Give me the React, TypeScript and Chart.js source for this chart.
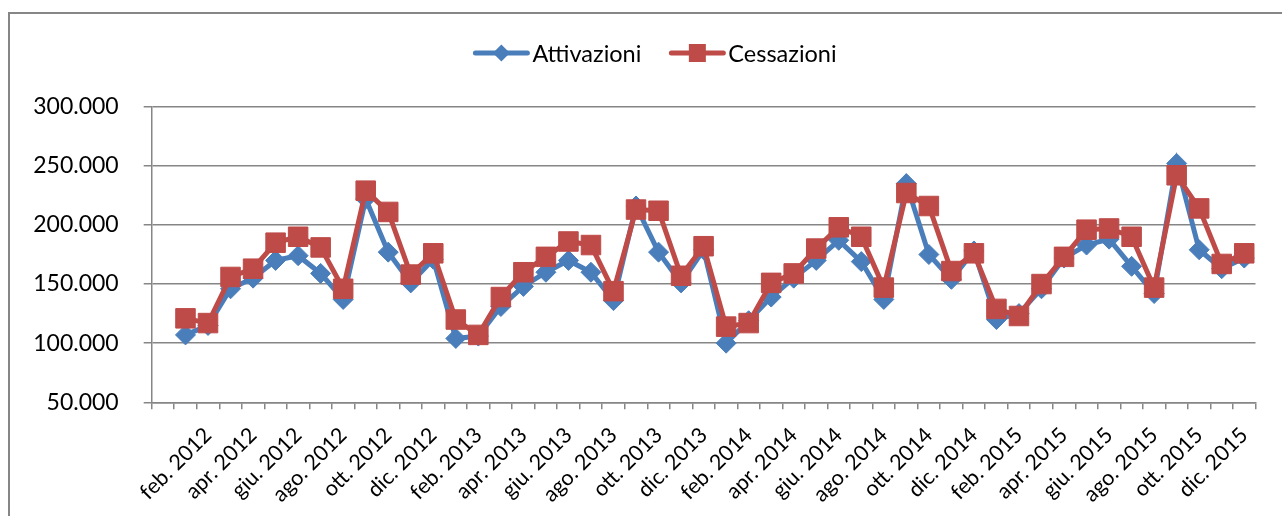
import React, { useEffect, useRef } from 'react';
import { Chart, registerables } from 'chart.js';

Chart.register(...registerables);

// Categories: first slot is an empty category (no data, no label)
const categories: string[] = [
  '',
  'gen. 2012', 'feb. 2012', 'mar. 2012', 'apr. 2012', 'mag. 2012', 'giu. 2012',
  'lug. 2012', 'ago. 2012', 'set. 2012', 'ott. 2012', 'nov. 2012', 'dic. 2012',
  'gen. 2013', 'feb. 2013', 'mar. 2013', 'apr. 2013', 'mag. 2013', 'giu. 2013',
  'lug. 2013', 'ago. 2013', 'set. 2013', 'ott. 2013', 'nov. 2013', 'dic. 2013',
  'gen. 2014', 'feb. 2014', 'mar. 2014', 'apr. 2014', 'mag. 2014', 'giu. 2014',
  'lug. 2014', 'ago. 2014', 'set. 2014', 'ott. 2014', 'nov. 2014', 'dic. 2014',
  'gen. 2015', 'feb. 2015', 'mar. 2015', 'apr. 2015', 'mag. 2015', 'giu. 2015',
  'lug. 2015', 'ago. 2015', 'set. 2015', 'ott. 2015', 'nov. 2015', 'dic. 2015',
];

const attivazioni: (number | null)[] = [
  null,
  107000, 115000, 146000, 155000, 170000, 174000, 159000, 137000, 222000, 177000, 151000, 171000,
  104000, 106000, 131000, 148000, 160000, 170000, 160000, 136000, 216000, 177000, 151000, 179000,
  100000, 119000, 139000, 155000, 170000, 187000, 169000, 137000, 235000, 175000, 154000, 178000,
  120000, 125000, 146000, 172000, 183000, 188000, 165000, 142000, 252000, 179000, 163000, 172000,
];

const cessazioni: (number | null)[] = [
  null,
  121000, 117000, 156000, 163000, 185000, 190000, 181000, 146000, 229000, 211000, 158000, 176000,
  120000, 107000, 139000, 160000, 173000, 186000, 183000, 144000, 213000, 212000, 157000, 182000,
  114000, 117000, 151000, 159000, 180000, 198000, 190000, 147000, 227000, 216000, 161000, 176000,
  129000, 123000, 150000, 173000, 196000, 197000, 190000, 147000, 242000, 214000, 167000, 176000,
];

const seriesNames = ['Attivazioni', 'Cessazioni'];
const yTickValues = [50000, 100000, 150000, 200000, 250000, 300000];
const yTickLabels = ['50.000', '100.000', '150.000', '200.000', '250.000', '300.000'];

const BLUE = '#4A7EBB';
const RED = '#BE4B48';
const GRID = '#868686';
const FONT = 'Lato';

const excelLegend = {
  id: 'excelLegend',
  afterDraw(chart: any) {
    const ctx: CanvasRenderingContext2D = chart.ctx;
    ctx.save();
    ctx.font = `23.5px ${FONT}`;
    const items = chart.data.datasets.map((ds: any) => ({
      label: ds.label as string,
      color: ds.borderColor as string,
      style: ds.pointStyle as string,
    }));
    const lineLen = 56;
    const gapText = 3;
    const itemGap = 28;
    const widths = items.map((it: any) => lineLen + gapText + ctx.measureText(it.label).width);
    const total = widths.reduce((a: number, b: number) => a + b, 0) + itemGap * (items.length - 1);
    let x = 655 - total / 2;
    const y = 53;
    items.forEach((it: any, i: number) => {
      ctx.strokeStyle = it.color;
      ctx.lineWidth = 5;
      ctx.lineCap = 'round';
      ctx.beginPath();
      ctx.moveTo(x + 2, y);
      ctx.lineTo(x + lineLen - 2, y);
      ctx.stroke();
      const cx = x + lineLen / 2;
      ctx.fillStyle = it.color;
      ctx.beginPath();
      if (it.style === 'rectRot') {
        const r = 8.5;
        ctx.moveTo(cx, y - r);
        ctx.lineTo(cx + r, y);
        ctx.lineTo(cx, y + r);
        ctx.lineTo(cx - r, y);
        ctx.closePath();
      } else {
        ctx.rect(cx - 8.5, y - 9, 17, 18);
      }
      ctx.fill();
      ctx.fillStyle = '#000';
      ctx.textBaseline = 'middle';
      ctx.textAlign = 'left';
      ctx.fillText(it.label, x + lineLen + gapText, y + 1);
      x += widths[i] + itemGap;
    });
    ctx.restore();
  },
};

function ChartCanvas() {
  const ref = useRef<HTMLCanvasElement | null>(null);
  useEffect(() => {
    if (!ref.current) return;
    const chart = new Chart(ref.current, {
      type: 'line',
      data: {
        labels: categories,
        datasets: [
          {
            label: seriesNames[0],
            data: attivazioni,
            borderColor: BLUE,
            backgroundColor: BLUE,
            borderWidth: 5,
            pointStyle: 'rectRot',
            pointRadius: 10,
            pointBorderWidth: 1,
            pointBackgroundColor: BLUE,
            pointBorderColor: BLUE,
            tension: 0,
            order: 1,
          },
          {
            label: seriesNames[1],
            data: cessazioni,
            borderColor: RED,
            backgroundColor: RED,
            borderWidth: 5,
            pointStyle: 'rect',
            pointRadius: 13.8,
            pointBorderWidth: 1,
            pointBackgroundColor: RED,
            pointBorderColor: RED,
            tension: 0,
            order: 0,
          },
        ],
      },
      options: {
        animation: false,
        responsive: false,
        maintainAspectRatio: false,
        layout: { padding: { top: 106.7, left: 0, right: 26.5, bottom: 0 } },
        plugins: {
          legend: { display: false },
          tooltip: { enabled: false },
        },
        scales: {
          x: {
            type: 'category',
            offset: true,
            afterFit: (scale: any) => {
              scale.height = 113.7;
            },
            grid: {
              offset: true,
              display: true,
              drawOnChartArea: false,
              drawTicks: true,
              tickLength: 7,
              color: GRID,
              lineWidth: 1.5,
            },
            border: { display: true, color: GRID, width: 1.5 },
            ticks: {
              autoSkip: false,
              maxRotation: 45,
              minRotation: 45,
              padding: 13,
              color: '#000',
              font: { family: FONT, size: 21.5 },
              callback: function (this: any, _v: any, index: number) {
                return index > 0 && index % 2 === 0 ? categories[index] : '';
              },
            },
          },
          y: {
            min: yTickValues[0],
            max: yTickValues[yTickValues.length - 1],
            afterFit: (scale: any) => {
              scale.width = 151.7;
            },
            afterBuildTicks: (scale: any) => {
              scale.ticks = yTickValues.map((v) => ({ value: v }));
            },
            grid: {
              color: GRID,
              lineWidth: 1.5,
              drawTicks: true,
              tickLength: 8,
            },
            border: { display: true, color: GRID, width: 1.5 },
            ticks: {
              padding: 25,
              color: '#000',
              font: { family: FONT, size: 23 },
              callback: (v: any) => {
                const i = yTickValues.indexOf(Number(v));
                return i >= 0 ? yTickLabels[i] : '';
              },
            },
          },
        },
      },
      plugins: [excelLegend],
    });
    return () => chart.destroy();
  }, []);
  return <canvas ref={ref} width={1282} height={516} style={{ position: 'absolute', left: 0, top: 0, width: 1282, height: 516 }} />;
}

export default function App() {
  return (
    <div style={{ position: 'fixed', left: 0, top: 0, width: 1282, height: 516, overflow: 'hidden', background: '#fff' }}>
      <div
        style={{
          position: 'absolute',
          left: 8,
          top: 12,
          width: 1400,
          height: 700,
          borderLeft: `2px solid ${GRID}`,
          borderTop: `2px solid ${GRID}`,
        }}
      />
      <ChartCanvas />
    </div>
  );
}
